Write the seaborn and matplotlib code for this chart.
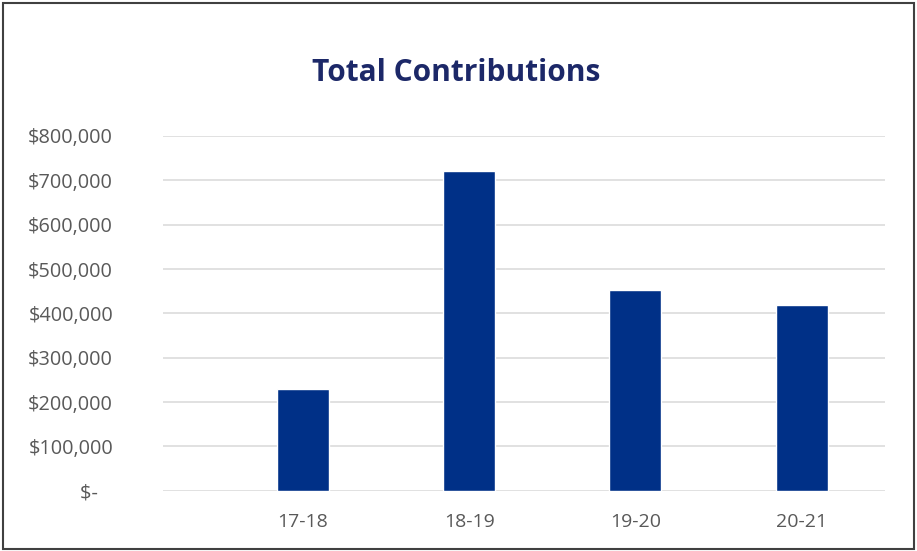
import matplotlib
matplotlib.use("Agg")
import matplotlib.pyplot as plt
import seaborn as sns
import pandas as pd
from matplotlib.patches import Rectangle

# values
years = ["17-18", "18-19", "19-20", "20-21"]
contributions = [230000, 720000, 453000, 419000]
y_ticks = [0, 100000, 200000, 300000, 400000, 500000, 600000, 700000, 800000]

df = pd.DataFrame({"year": years, "total": contributions})

sns.set_style("white")
plt.rcParams["font.family"] = ["Open Sans", "DejaVu Sans"]

fig = plt.figure(figsize=(9.17, 5.51), dpi=100)
ax = fig.add_axes([0.1778, 0.1094, 0.7872, 0.6438])

sns.barplot(data=df, x="year", y="total", color="#003087", saturation=1,
            width=0.313, ax=ax, zorder=3)

ax.set_ylim(0, 800000)
ax.set_xlim(-0.84, 3.5)
ax.set_yticks(y_ticks)
ax.set_yticklabels(["$-   "] + [f"${v:,}" for v in y_ticks[1:]])
ax.yaxis.grid(True, color="#D9D9D9", linewidth=1.1, zorder=0)
ax.xaxis.grid(False)
for s in ax.spines.values():
    s.set_visible(False)
ax.tick_params(axis="y", length=0, pad=36, labelsize=14.3, labelcolor="#595959")
ax.tick_params(axis="x", length=0, pad=16, labelsize=14, labelcolor="#595959")
ax.set_xlabel("")
ax.set_ylabel("")

fig.text(0.497, 0.867, "Total Contributions", ha="center", va="center",
         fontsize=21.5, fontweight="bold", color="#1C2868")

# thin frame around the chart
fig.patches.append(Rectangle((0.003, 0.004), 0.994, 0.991, transform=fig.transFigure,
                             fill=False, edgecolor="#404040", linewidth=1.5))

fig.savefig("out.png", dpi=100)
